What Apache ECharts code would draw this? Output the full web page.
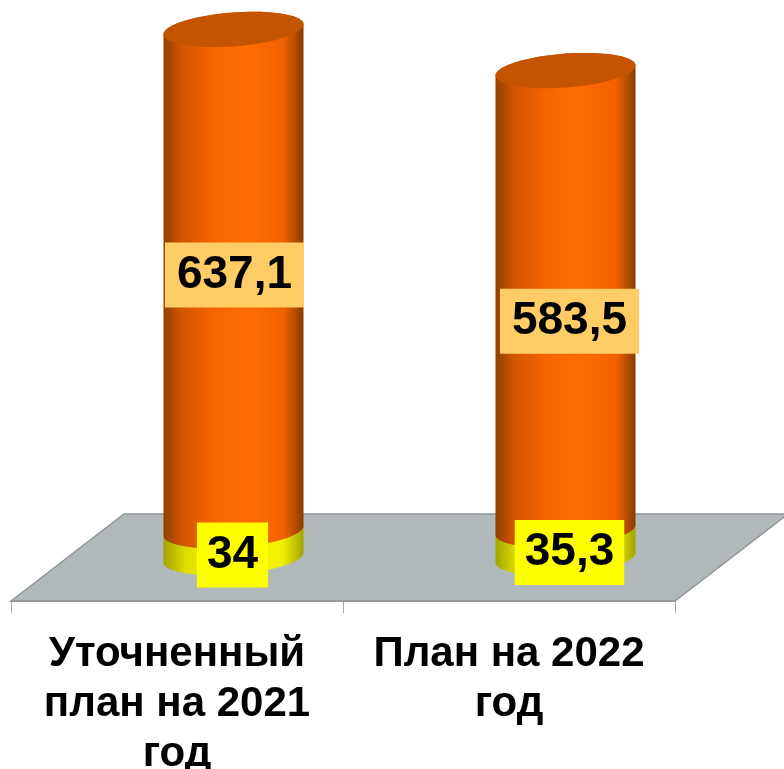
<!DOCTYPE html>
<html>
<head>
<meta charset="utf-8">
<style>
  html, body { margin: 0; padding: 0; background: #fff; }
  #chart { width: 784px; height: 769px; }
</style>
<script src="https://cdn.jsdelivr.net/npm/echarts@6/dist/echarts.min.js"></script>
</head>
<body>
<div id="chart"></div>
<script>
var categories = ['Уточненный\nплан на 2021\nгод', 'План на 2022\nгод'];
var lowerValues = [34, 35.3];
var upperValues = [637.1, 583.5];
var lowerLabels = ['34', '35,3'];
var upperLabels = ['637,1', '583,5'];

// hand placed labels in the original, so nudged off the segment middle
var lowerNudge = [[-1, 11], [4, 9]];
var upperNudge = [[1, -5], [4, 21]];

// fake 3d: cylinders stand half way back on the floor
var DEPTH_X = 113, DEPTH_Y = 87;
var RADIUS = 70, CAP_B = 17, CAP_SHEAR = 5;

function arcPoints(cx, cy, from, to) {
    var pts = [];
    for (var i = 0; i <= 48; i++) {
        var t = from + (to - from) * i / 48;
        pts.push([cx + RADIUS * Math.cos(t), cy - CAP_SHEAR * Math.cos(t) + CAP_B * Math.sin(t)]);
    }
    return pts;
}

function sideGradient(stops) {
    return new echarts.graphic.LinearGradient(0, 0, 1, 0, stops);
}

var orangeSide = [
    {offset: 0, color: '#8f4000'},
    {offset: 0.12, color: '#d05400'},
    {offset: 0.35, color: '#f56400'},
    {offset: 0.6, color: '#ff6c00'},
    {offset: 0.86, color: '#f06200'},
    {offset: 1, color: '#8a3c00'}
];
var yellowSide = [
    {offset: 0, color: '#a3a300'},
    {offset: 0.15, color: '#dcdc00'},
    {offset: 0.45, color: '#ffff00'},
    {offset: 0.85, color: '#f0f000'},
    {offset: 1, color: '#a3a300'}
];

function cylinderSeries(name, bases, values, stops, capColor, z) {
    return {
        name: name,
        type: 'custom',
        z: z,
        silent: true,
        data: values.map(function (v, i) { return [i, bases[i], bases[i] + v]; }),
        renderItem: function (params, api) {
            var low = api.coord([api.value(0), api.value(1)]);
            var high = api.coord([api.value(0), api.value(2)]);
            var cx = low[0] + DEPTH_X / 2;
            var yLow = low[1] - DEPTH_Y / 2;
            var yHigh = high[1] - DEPTH_Y / 2;
            var children = [{
                type: 'polygon',
                shape: {points: arcPoints(cx, yHigh, 0, -Math.PI).concat(arcPoints(cx, yLow, Math.PI, 0))},
                style: {fill: sideGradient(stops)}
            }];
            if (capColor) {
                children.push({
                    type: 'polygon',
                    shape: {points: arcPoints(cx, yHigh, 0, Math.PI * 2)},
                    style: {fill: capColor}
                });
            }
            return {type: 'group', children: children};
        }
    };
}

function labelSeries(name, bases, values, texts, nudge, background, padX) {
    return {
        name: name,
        type: 'custom',
        z: 10,
        silent: true,
        data: values.map(function (v, i) { return [i, bases[i] + v / 2]; }),
        renderItem: function (params, api) {
            var p = api.coord([api.value(0), api.value(1)]);
            var n = nudge[params.dataIndex];
            return {
                type: 'text',
                x: p[0] + DEPTH_X / 2 + n[0],
                y: p[1] - DEPTH_Y / 2 + n[1],
                style: {
                    text: texts[params.dataIndex],
                    fontFamily: '"Liberation Sans", Arial, sans-serif',
                    fontWeight: 'bold',
                    fontSize: 46,
                    fill: '#000',
                    align: 'center',
                    verticalAlign: 'middle',
                    backgroundColor: background,
                    padding: [8, padX, 11, padX]
                }
            };
        }
    };
}

var floorSeries = {
    name: 'floor',
    type: 'custom',
    z: 1,
    silent: true,
    data: [0],
    renderItem: function (params) {
        var g = params.coordSys;
        var bottom = g.y + g.height;
        return {
            type: 'polygon',
            shape: {points: [
                [g.x, bottom],
                [g.x + DEPTH_X, bottom - DEPTH_Y],
                [g.x + g.width + DEPTH_X, bottom - DEPTH_Y],
                [g.x + g.width, bottom]
            ]},
            style: {fill: '#b2b9ba', stroke: '#8f9494', lineWidth: 1.5}
        };
    }
};

var chart = echarts.init(document.getElementById('chart'));
chart.setOption({
    animation: false,
    backgroundColor: '#fff',
    grid: {left: 11, top: 3, width: 664, height: 598, outerBoundsMode: 'none'},
    xAxis: {
        type: 'category',
        data: categories,
        axisLine: {lineStyle: {color: '#a6a6a6', width: 1}},
        axisTick: {show: true, alignWithLabel: false, length: 12, lineStyle: {color: '#a6a6a6', width: 1}},
        axisLabel: {
            interval: 0,
            margin: 28,
            color: '#000',
            fontFamily: '"Liberation Sans", Arial, sans-serif',
            fontWeight: 'bold',
            fontSize: 42,
            lineHeight: 50
        }
    },
    yAxis: {type: 'value', min: 0, max: 760, show: false},
    series: [
        floorSeries,
        cylinderSeries('lower', [0, 0], lowerValues, yellowSide, null, 2),
        cylinderSeries('upper', lowerValues, upperValues, orangeSide, '#c45400', 3),
        labelSeries('lowerLabel', [0, 0], lowerValues, lowerLabels, lowerNudge, '#ffff00', 10),
        labelSeries('upperLabel', lowerValues, upperValues, upperLabels, upperNudge, '#ffcc66', 12)
    ]
});
</script>
</body>
</html>
